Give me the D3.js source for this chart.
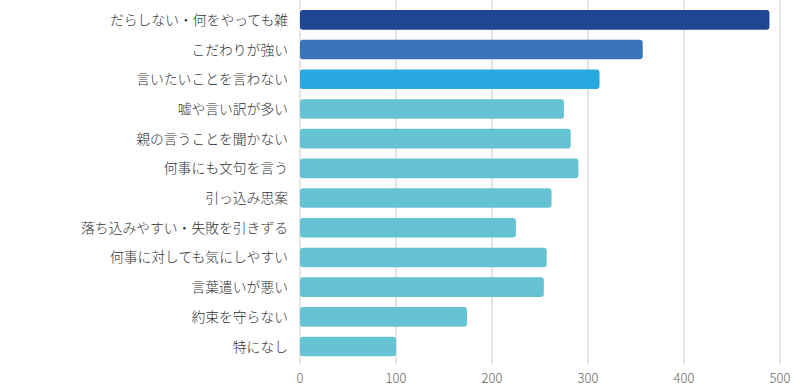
<!DOCTYPE html>
<html>
<head>
<meta charset="utf-8">
<script src="https://cdn.jsdelivr.net/npm/d3@7"></script>
<style>
  html, body { margin: 0; padding: 0; background: #fff; }
  svg { display: block; font-family: "Noto Sans CJK JP", "Noto Sans", sans-serif; }
</style>
</head>
<body>
<svg id="chart" width="800" height="387"></svg>
<script>
const categories = [
  "だらしない・何をやっても雑",
  "こだわりが強い",
  "言いたいことを言わない",
  "嘘や言い訳が多い",
  "親の言うことを聞かない",
  "何事にも文句を言う",
  "引っ込み思案",
  "落ち込みやすい・失敗を引きずる",
  "何事に対しても気にしやすい",
  "言葉遣いが悪い",
  "約束を守らない",
  "特になし"
];
const values = [489, 357, 312, 275, 282, 290, 262, 225, 257, 254, 174, 100];
const barColors = ["#1f4690", "#3a74b8", "#27a8df", "#65c3d3", "#65c3d3", "#65c3d3",
  "#65c3d3", "#65c3d3", "#65c3d3", "#65c3d3", "#65c3d3", "#65c3d3"];
const xTicks = [0, 100, 200, 300, 400, 500];

const svg = d3.select("#chart");
const left = 300, right = 780;

const x = d3.scaleLinear().domain([0, 500]).range([left, right]);
const y = d3.scaleBand().domain(categories).range([5, 361.4]).paddingInner(0.34).paddingOuter(0.17);

// grid lines
svg.append("g")
  .selectAll("line")
  .data(xTicks)
  .join("line")
  .attr("x1", d => x(d)).attr("x2", d => x(d))
  .attr("y1", 0).attr("y2", 364)
  .attr("stroke", "#dcdcdc")
  .attr("stroke-width", 1.5);

// bars
svg.append("g")
  .selectAll("rect")
  .data(values)
  .join("rect")
  .attr("x", x(0))
  .attr("y", (d, i) => y(categories[i]))
  .attr("width", d => x(d) - x(0))
  .attr("height", y.bandwidth())
  .attr("rx", 3)
  .attr("fill", (d, i) => barColors[i]);

// category labels
svg.append("g")
  .selectAll("text")
  .data(categories)
  .join("text")
  .attr("x", 288)
  .attr("y", d => y(d) + y.bandwidth() / 2)
  .attr("dy", "0.36em")
  .attr("text-anchor", "end")
  .style("font-size", "13.8px")
  .style("font-weight", 300)
  .style("fill", "#333")
  .text(d => d);

// x axis tick labels
svg.append("g")
  .selectAll("text")
  .data(xTicks)
  .join("text")
  .attr("x", d => x(d))
  .attr("y", 378)
  .attr("dy", "0.36em")
  .attr("text-anchor", "middle")
  .style("font-size", "13px")
  .style("font-weight", 300)
  .style("fill", "#666")
  .text(d => d);
</script>
</body>
</html>
